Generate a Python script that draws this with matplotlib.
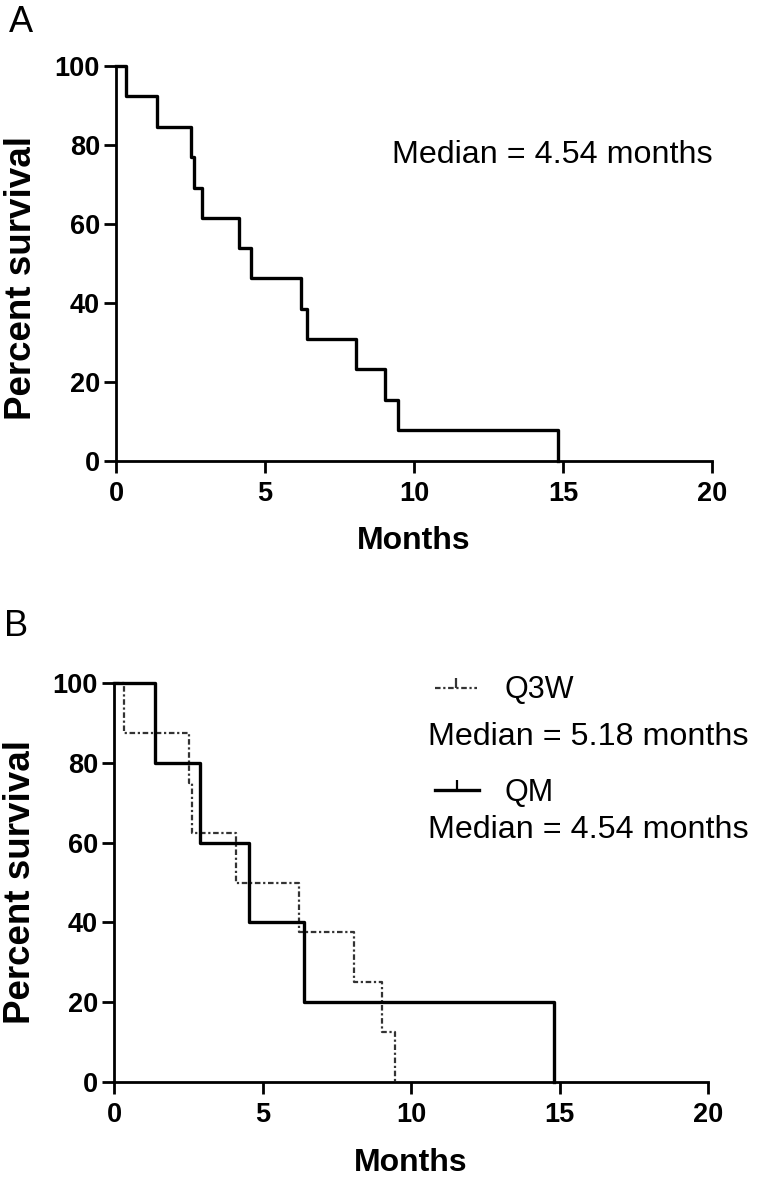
import matplotlib.pyplot as plt
from matplotlib.lines import Line2D

plt.rcParams["font.family"] = ["Liberation Sans", "DejaVu Sans"]

# panel A: all patients
times_all = [0.34, 1.37, 2.52, 2.61, 2.89, 4.12, 4.54, 6.22, 6.40, 8.07, 9.03, 9.46, 14.82]
surv_all = [92.3, 84.6, 76.9, 69.2, 61.5, 53.8, 46.2, 38.5, 30.8, 23.1, 15.4, 7.7, 0.0]

# panel B: by schedule
times_q3w = [0.34, 2.52, 2.61, 4.12, 6.22, 8.07, 9.03, 9.46]
surv_q3w = [87.5, 75.0, 62.5, 50.0, 37.5, 25.0, 12.5, 0.0]
times_qm = [1.37, 2.89, 4.54, 6.40, 14.82]
surv_qm = [80.0, 60.0, 40.0, 20.0, 0.0]

xticks = [0, 5, 10, 15, 20]
yticks = [0, 20, 40, 60, 80, 100]

W, H = 758, 1179
fig = plt.figure(figsize=(W / 100, H / 100), dpi=100)


def make_axes(left, right, top, bottom):
    ax = fig.add_axes([left / W, 1 - bottom / H, (right - left) / W, (bottom - top) / H])
    ax.set_xlim(0, 20)
    ax.set_ylim(0, 100)
    ax.set_xticks(xticks)
    ax.set_yticks(yticks)
    for s in ["top", "right"]:
        ax.spines[s].set_visible(False)
    for s in ["left", "bottom"]:
        ax.spines[s].set_linewidth(2.0)
    ax.tick_params(direction="out", length=8.5, width=2.0, labelsize=19.5)
    ax.tick_params(axis="x", pad=6)
    ax.tick_params(axis="y", pad=3)
    for lab in ax.get_xticklabels() + ax.get_yticklabels():
        lab.set_fontweight("bold")
    ax.set_xlabel("Months", fontsize=23, fontweight="bold", labelpad=14)
    return ax


def km(ax, t, s, **kw):
    ax.step([0] + t, [100] + s, where="post", clip_on=False, **kw)


# ---- A ----
axA = make_axes(116, 712, 66, 460.5)
km(axA, times_all, surv_all, color="black", lw=2.4)
fig.text(392 / W, 1 - 155 / H, "Median = 4.54 months", fontsize=23.2, va="center", ha="left")
fig.text(22 / W, 1 - 278 / H, "Percent survival", fontsize=26.5, fontweight="bold",
         rotation=90, va="center", ha="center")
fig.text(21 / W, 1 - 22 / H, "A", fontsize=26, va="center", ha="center")

# ---- B ----
axB = make_axes(114, 708, 683, 1082)
q3w_style = dict(color="#333333", lw=1.6, linestyle=(0, (2.5, 1.2, 1, 1.2)))
km(axB, times_q3w, surv_q3w, **q3w_style)
km(axB, times_qm, surv_qm, color="black", lw=2.4)
fig.text(21 / W, 1 - 882 / H, "Percent survival", fontsize=26.5, fontweight="bold",
         rotation=90, va="center", ha="center")
fig.text(16 / W, 1 - 627 / H, "B", fontsize=26, va="center", ha="center")

# legend drawn by hand
fig.add_artist(Line2D([435 / W, 477 / W], [1 - 688 / H, 1 - 688 / H], **q3w_style))
fig.add_artist(Line2D([456 / W], [1 - 688 / H], marker=2, ms=7, mew=1.6, color="#333333"))
fig.text(504 / W, 1 - 690 / H, "Q3W", fontsize=22, va="center", ha="left")
fig.text(428 / W, 1 - 737 / H, "Median = 5.18 months", fontsize=23.2, va="center", ha="left")
fig.add_artist(Line2D([435 / W, 479 / W], [1 - 790 / H, 1 - 790 / H], color="black", lw=2.4))
fig.add_artist(Line2D([457 / W], [1 - 790 / H], marker=2, ms=7, mew=1.6, color="black"))
fig.text(504 / W, 1 - 793 / H, "QM", fontsize=22, va="center", ha="left")
fig.text(428 / W, 1 - 830 / H, "Median = 4.54 months", fontsize=23.2, va="center", ha="left")

fig.savefig("out.png", dpi=100)
